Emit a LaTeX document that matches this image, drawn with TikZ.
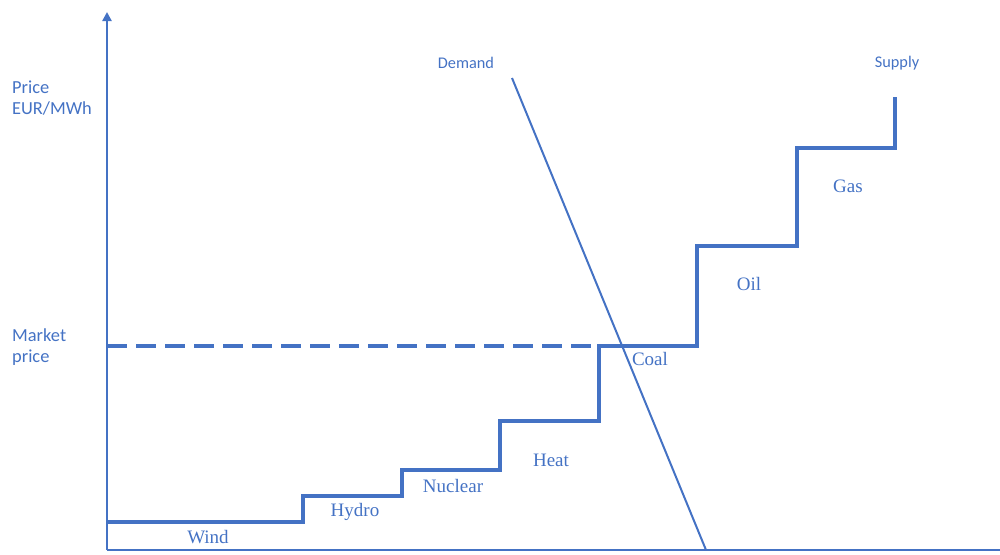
\documentclass[tikz,border=0pt]{standalone}
\usepackage{fontspec}
\setmainfont{Liberation Serif}
\newfontfamily\calib{Carlito}
\usetikzlibrary{arrows.meta}
\definecolor{ofblue}{HTML}{4472C4}
\begin{document}
\begin{tikzpicture}[x=1pt,y=-1pt,
  axisline/.style={draw=ofblue,line width=2.5pt},
  supplyline/.style={draw=ofblue,line width=4.5pt,line join=miter},
  mktline/.style={draw=ofblue,line width=4.5pt,dash pattern=on 20pt off 9pt},
  demandline/.style={draw=ofblue,line width=2pt},
  sanslab/.style={text=ofblue,font=\calib\fontsize{18.4}{22}\selectfont,anchor=west,inner sep=0pt},
  toplab/.style={text=ofblue,font=\calib\fontsize{16.3}{20}\selectfont,inner sep=0pt},
  serlab/.style={text=ofblue,font=\fontsize{19}{22}\selectfont,inner sep=0pt}]
\useasboundingbox (0,0) rectangle (1000,554);
% axes
\coordinate (origin) at (107,550);
\coordinate (ytop) at (107,12);
\coordinate (xend) at (1002,550);
\draw[axisline,-{Triangle[length=9pt,width=9pt]}] (origin) -- (ytop);
\draw[axisline] (origin) -- (xend);
% market price dashed line
\coordinate (mp0) at (107,346);
\coordinate (mp1) at (599,346);
\draw[mktline] (mp0) -- (mp1);
% supply steps
\coordinate (s0) at (107,522);
\coordinate (s1) at (303,522);
\coordinate (s2) at (303,496);
\coordinate (s3) at (402,496);
\coordinate (s4) at (402,470);
\coordinate (s5) at (500,470);
\coordinate (s6) at (500,421);
\coordinate (s7) at (599,421);
\coordinate (s8) at (599,346);
\coordinate (s9) at (697,346);
\coordinate (s10) at (697,246);
\coordinate (s11) at (797,246);
\coordinate (s12) at (797,148);
\coordinate (s13) at (895,148);
\coordinate (s14) at (895,97);
\draw[supplyline] (s0) -- (s1) -- (s2) -- (s3) -- (s4) -- (s5) -- (s6) -- (s7) -- (s8) -- (s9) -- (s10) -- (s11) -- (s12) -- (s13) -- (s14);
% demand
\coordinate (d0) at (512,78);
\coordinate (d1) at (706,550);
\draw[demandline] (d0) -- (d1);
% labels
\node[sanslab] (price) at (12,87) {Price};
\node[sanslab] (unit) at (12,109) {EUR/MWh};
\node[sanslab] (market) at (12,335) {Market};
\node[sanslab] (mprice) at (12,358) {price};
\node[toplab] (demand) at (466,63) {Demand};
\node[toplab] (supply) at (897,63) {Supply};
\node[serlab] (wind) at (208,537) {Wind};
\node[serlab] (hydro) at (355,512) {Hydro};
\node[serlab] (nuclear) at (453,486) {Nuclear};
\node[serlab] (heat) at (551,460) {Heat};
\node[serlab] (coal) at (650,359) {Coal};
\node[serlab] (oil) at (749,284) {Oil};
\node[serlab] (gas) at (848,186) {Gas};
\end{tikzpicture}
\end{document}
